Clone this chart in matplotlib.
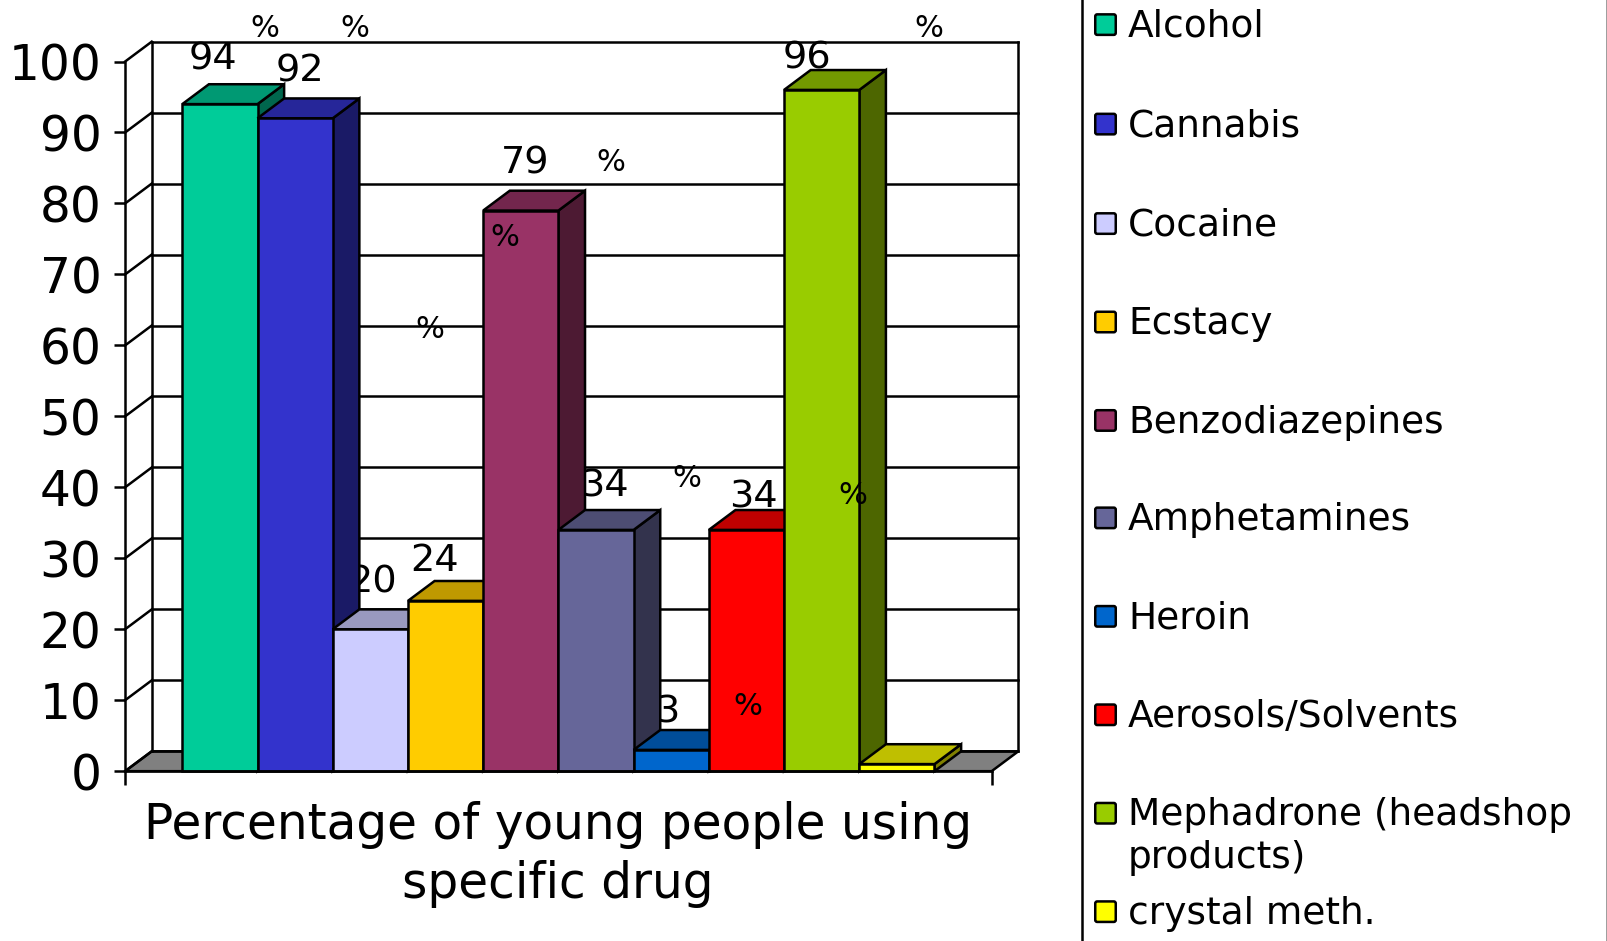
import matplotlib
matplotlib.use("Agg")
import matplotlib.pyplot as plt
from matplotlib.patches import FancyBboxPatch
from matplotlib.lines import Line2D
from matplotlib.colors import to_rgb

# ---- data ----
drugs = ["Alcohol", "Cannabis", "Cocaine", "Ecstacy", "Benzodiazepines", "Amphetamines",
         "Heroin", "Aerosols/Solvents", "Mephadrone (headshop\nproducts)", "crystal meth."]
values = [94, 92, 20, 24, 79, 34, 3, 34, 96, 1]
number_labels = ["94", "92", "20", "24", "79", "34", "3", "34", "96"]
y_ticks = list(range(0, 101, 10))
colors = ["#00CC99", "#3333CC", "#CCCCFF", "#FFCC00", "#993366",
          "#666699", "#0066CC", "#FF0000", "#99CC00", "#FFFF00"]
title = "Percentage of young people using\nspecific drug"

# ---- layout (pixels of the 1608x941 image) ----
W, H = 1608, 941
S = 1608 / 1568
plt.rcParams["font.family"] = ["DejaVu Sans"]
fig = plt.figure(figsize=(W / 100, H / 100), dpi=100, facecolor="white")
FX0, FX1, FY0, FY100 = 122 * S, 967 * S, 752 * S, 60 * S
ax = fig.add_axes([FX0 / W, 1 - FY0 / H, (FX1 - FX0) / W, (FY0 - FY100) / H])
GAP = 0.76
xlo, xhi = -0.5 - GAP, len(values) - 0.5 + GAP
ax.set_xlim(xlo, xhi)
ax.set_ylim(0, 100)
DX, DY = 0.354, 2.8    # depth of the 3D projection in data units
LW = 1.8


def shade(c, f):
    return tuple(v * f for v in to_rgb(c))


# walls and floor
ax.fill([xlo, xhi, xhi + DX, xlo + DX], [0, 0, DY, DY], color="#808080", ec="black",
        lw=LW, clip_on=False, zorder=1)
for t in y_ticks:
    ax.plot([xlo + DX, xhi + DX], [t + DY, t + DY], color="black", lw=LW, clip_on=False, zorder=1.1)
    ax.plot([xlo, xlo + DX], [t, t + DY], color="black", lw=LW, clip_on=False, zorder=1.1)
ax.plot([xlo + DX, xlo + DX], [DY, 100 + DY], color="black", lw=LW, clip_on=False, zorder=1.1)
ax.plot([xhi + DX, xhi + DX], [DY, 100 + DY], color="black", lw=LW, clip_on=False, zorder=1.1)

# bars
for i, (v, c) in enumerate(zip(values, colors)):
    z = 3 + i * 0.1
    l, r = i - 0.5, i + 0.5
    ax.fill([r, r + DX, r + DX, r], [0, DY, v + DY, v], fc=shade(c, 0.5), ec="black", lw=LW,
            clip_on=False, zorder=z, joinstyle="miter")
    ax.fill([l, r, r + DX, l + DX], [v, v, v + DY, v + DY], fc=shade(c, 0.75), ec="black", lw=LW,
            clip_on=False, zorder=z + 0.01, joinstyle="miter")
    ax.bar(i, v, width=1, color=c, edgecolor="black", linewidth=LW, clip_on=False, zorder=z + 0.02)

# axes
for s in ["top", "right"]:
    ax.spines[s].set_visible(False)
for s in ["left", "bottom"]:
    ax.spines[s].set_linewidth(LW)
    ax.spines[s].set_zorder(5)
ax.patch.set_alpha(0)
ax.set_yticks(y_ticks)
ax.set_yticklabels([str(t) for t in y_ticks], fontsize=35)
ax.tick_params(axis="y", length=8, width=LW, pad=9)
ax.set_xticks([xlo, xhi])
ax.set_xticklabels(["", ""])
ax.tick_params(axis="x", length=10, width=LW)


def px(x, y):
    return x * S / W, 1 - y * S / H


def to_axes(x, y):
    return ax.transAxes.inverted().transform(fig.transFigure.transform(px(x, y)))


# title
fig.text(*px(544, 833), title, ha="center", va="center", fontsize=35, linespacing=1.3)

# data labels, placed as in the reference: the numbers sit behind the bars,
# the separated percent signs in front of them
num_xy = [(208, 58), (293, 70), (363, 568), (424, 547), (512, 159),
          (589, 474), (651, 695), (735, 485), (787, 57)]
pct_xy = [(258, 28), (346, 28), (419, 321), (492, 232), (596, 158),
          (670, 467), (729, 689), (832, 483), (906, 28)]
for lab, (x, y) in zip(number_labels, num_xy):
    ax.text(*to_axes(x, y), lab, transform=ax.transAxes, ha="center", va="center",
            fontsize=27.5, clip_on=False, zorder=2)
for x, y in pct_xy:
    fig.text(*px(x, y), "%", ha="center", va="center", fontsize=22, zorder=10)

# legend panel
fig.add_artist(Line2D([1055 * S / W] * 2, [0, 1], color="black", lw=LW))
fig.add_artist(Line2D([1607 / W] * 2, [0, 1], color="#808080", lw=LW))
leg_y = [24, 121, 218, 314, 410, 505, 601, 697, 793, 889]
SW = 20
for name, c, y in zip(drugs, colors, leg_y):
    x0, y0 = 1068 * S, (y - SW / 2) * S
    fig.add_artist(FancyBboxPatch((x0, H - y0 - SW * S), SW * S, SW * S, transform=None,
                                  boxstyle="round,pad=0,rounding_size=2",
                                  fc=c, ec="black", lw=LW))
    if "\n" in name:
        fig.text(*px(1100, y - 16), name, ha="left", va="top", fontsize=27, linespacing=1.27)
    else:
        fig.text(*px(1100, y + 2), name, ha="left", va="center", fontsize=27)

fig.savefig("out.png", dpi=100)
